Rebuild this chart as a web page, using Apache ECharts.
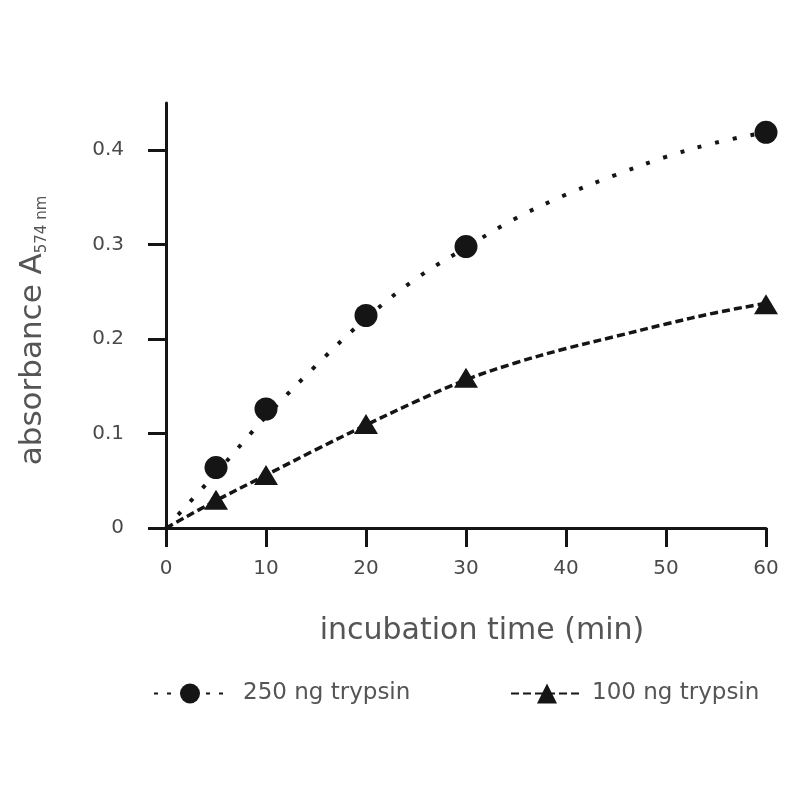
<!DOCTYPE html>
<html>
<head>
<meta charset="utf-8">
<script src="https://cdn.jsdelivr.net/npm/echarts@6/dist/echarts.min.js"></script>
<style>html,body{margin:0;padding:0;background:#fff;}#chart{width:800px;height:800px;}</style>
</head>
<body>
<div id="chart"></div>
<script>
// measured points
const timesMeasured = [5, 10, 20, 30, 60];
const abs250 = [0.064, 0.126, 0.225, 0.298, 0.419];
const abs100 = [0.030, 0.056, 0.110, 0.159, 0.237];
// fitted curves
const curveTimes = [0, 5, 10, 15, 20, 25, 30, 35, 40, 45, 50, 55, 60];
const curve250 = [0, 0.058, 0.118, 0.172, 0.222, 0.264, 0.297, 0.328, 0.353, 0.374, 0.393, 0.408, 0.419];
const curve100 = [0, 0.029, 0.056, 0.083, 0.109, 0.134, 0.157, 0.175, 0.190, 0.203, 0.216, 0.228, 0.238];
const yTicks = [0, 0.1, 0.2, 0.3, 0.4];
const seriesNames = ['250 ng trypsin', '100 ng trypsin'];

const pair = (xs, ys) => xs.map((x, i) => [x, ys[i]]);
const ink = '#151515';
const grey = '#555555';
const font = 'DejaVu Sans';

const chart = echarts.init(document.getElementById('chart'));
chart.setOption({
  animation: false,
  backgroundColor: '#ffffff',
  grid: { left: 166, right: 34, top: 103, bottom: 272 },
  legend: [
    { data: [seriesNames[0]], left: 148, top: 677, itemWidth: 72, itemHeight: 25,
      lineStyle: { type: [4, 9] },
      textStyle: { fontFamily: font, fontSize: 23, color: grey, padding: [0, 0, 0, 12] } },
    { data: [seriesNames[1]], left: 505, top: 677, itemWidth: 72, itemHeight: 25,
      textStyle: { fontFamily: font, fontSize: 23, color: grey, padding: [0, 0, 0, 4] } }
  ],
  xAxis: {
    type: 'value', min: 0, max: 60, interval: 10,
    name: 'incubation time (min)', nameLocation: 'middle', nameGap: 88,
    nameTextStyle: { fontFamily: font, fontSize: 30, color: grey, padding: [0, 0, 0, 32] },
    axisLine: { show: true, lineStyle: { color: ink, width: 3 } },
    axisTick: { show: true, inside: false, length: 19, lineStyle: { color: ink, width: 3 } },
    axisLabel: { margin: 31, fontFamily: font, fontSize: 20, color: '#4a4a4a' },
    splitLine: { show: false }
  },
  yAxis: {
    type: 'value', min: 0, max: 0.45, interval: 0.05,
    name: '{a|absorbance A}{s|574 nm}', nameLocation: 'middle', nameGap: 118,
    nameTextStyle: { padding: [0, 30, 0, 0],
      rich: {
        a: { fontFamily: font, fontSize: 31, color: grey, verticalAlign: 'bottom', lineHeight: 36 },
        s: { fontFamily: font, fontSize: 15, color: grey, verticalAlign: 'bottom', lineHeight: 15, padding: [0, 0, -2, 0] }
      } },
    axisLine: { show: true, lineStyle: { color: ink, width: 3 } },
    axisTick: { show: true, inside: false, length: 18, customValues: yTicks, lineStyle: { color: ink, width: 3 } },
    axisLabel: { margin: 42, fontFamily: font, fontSize: 20, color: '#4a4a4a', customValues: yTicks,
      formatter: v => (v === 0 ? '0' : v.toFixed(1)) },
    splitLine: { show: false }
  },
  series: [
    { name: seriesNames[0], type: 'line', data: pair(curveTimes, curve250), smooth: 0.35,
      symbol: 'circle', symbolSize: 20, showSymbol: false,
      itemStyle: { color: ink },
      lineStyle: { color: ink, width: 4, type: [4, 14] }, z: 2 },
    { name: seriesNames[0], type: 'scatter', data: pair(timesMeasured, abs250),
      symbol: 'circle', symbolSize: 23, itemStyle: { color: ink, opacity: 1 }, z: 3 },
    { name: seriesNames[1], type: 'line', data: pair(curveTimes, curve100), smooth: 0.35,
      symbol: 'triangle', symbolSize: 20, showSymbol: false,
      itemStyle: { color: ink },
      lineStyle: { color: ink, width: 3.5, type: [8, 4] }, z: 2 },
    { name: seriesNames[1], type: 'scatter', data: pair(timesMeasured, abs100),
      symbol: 'triangle', symbolSize: [24, 20], itemStyle: { color: ink, opacity: 1 }, z: 3 }
  ]
});
</script>
</body>
</html>
